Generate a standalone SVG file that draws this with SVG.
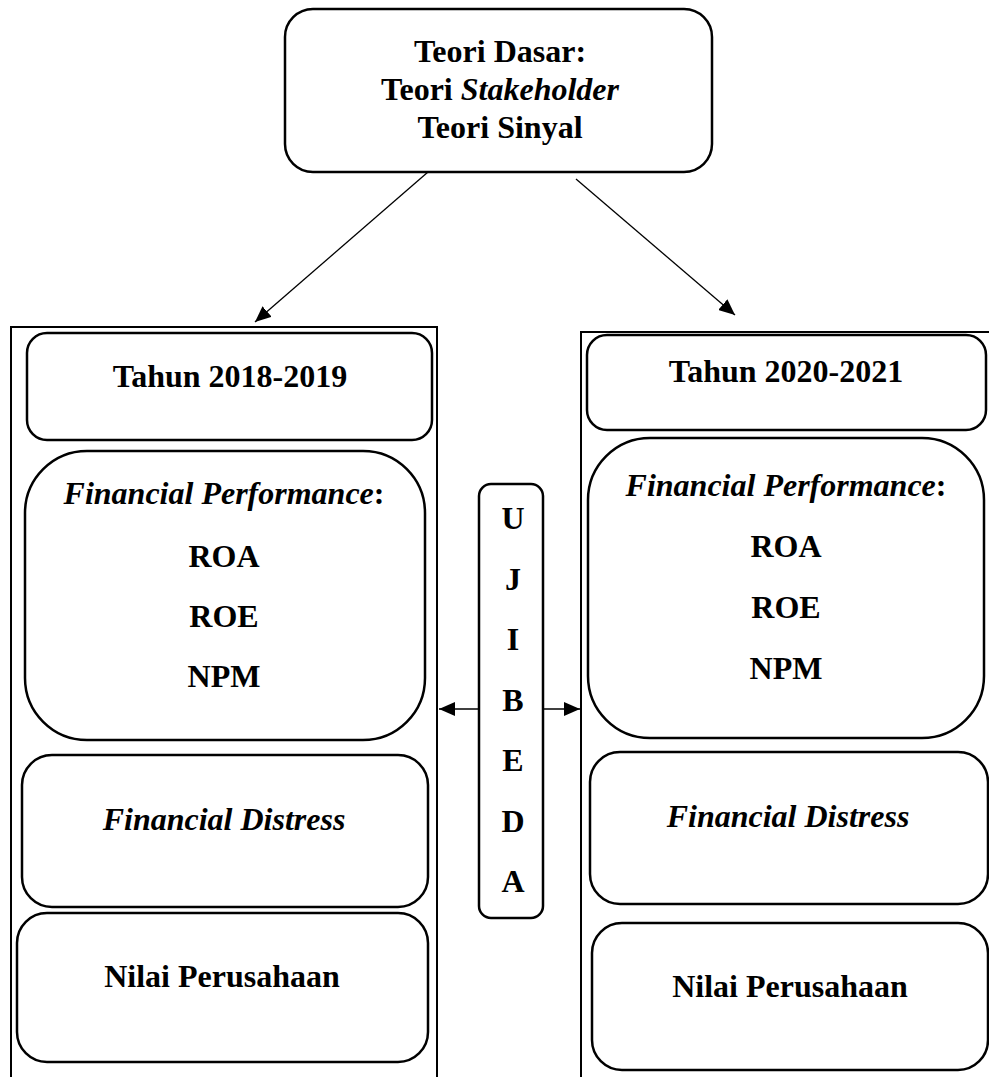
<svg xmlns="http://www.w3.org/2000/svg" width="989" height="1077" viewBox="0 0 989 1077">
<style>
.box{fill:#fff;stroke:#000;stroke-width:2.5}
.outer{fill:none;stroke:#000;stroke-width:2}
.conn{stroke:#000;stroke-width:1.3;fill:none}
text{font-family:"Liberation Serif","Times New Roman",serif;font-weight:bold;font-size:32px;fill:#000;text-anchor:middle}
.it{font-style:italic}
</style>
<defs>
<marker id="ah" viewBox="0 0 16 14" refX="16" refY="7" markerWidth="16" markerHeight="14" markerUnits="userSpaceOnUse" orient="auto">
<path d="M0,0 L16,7 L0,14 Z" fill="#000"/>
</marker>
</defs>
<rect width="989" height="1077" fill="#fff"/>
<g id="outer-left"><rect class="outer" x="11" y="327" width="426" height="770"/></g>
<g id="outer-right"><rect class="outer" x="581" y="332" width="420" height="770"/></g>
<g id="top">
<rect class="box" x="285" y="9" width="427" height="163" rx="28"/>
<text x="500" y="62">Teori Dasar:</text>
<text x="500" y="100">Teori <tspan class="it">Stakeholder</tspan></text>
<text x="500" y="138">Teori Sinyal</text>
</g>
<g id="left-year">
<rect class="box" x="27" y="333" width="405" height="107" rx="20"/>
<text x="230" y="387">Tahun 2018-2019</text>
</g>
<g id="left-fp">
<rect class="box" x="25" y="451" width="400" height="289" rx="62"/>
<text x="224" y="504"><tspan class="it">Financial Performance</tspan>:</text>
<text x="224" y="567">ROA</text>
<text x="224" y="627">ROE</text>
<text x="224" y="687">NPM</text>
</g>
<g id="left-fd">
<rect class="box" x="22" y="755" width="406" height="152" rx="30"/>
<text class="it" x="224" y="830">Financial Distress</text>
</g>
<g id="left-np">
<rect class="box" x="17" y="913" width="411" height="149" rx="30"/>
<text x="222" y="987">Nilai Perusahaan</text>
</g>
<g id="right-year">
<rect class="box" x="587" y="335" width="399" height="95" rx="20"/>
<text x="786" y="382">Tahun 2020-2021</text>
</g>
<g id="right-fp">
<rect class="box" x="588" y="438" width="396" height="300" rx="62"/>
<text x="786" y="496"><tspan class="it">Financial Performance</tspan>:</text>
<text x="786" y="557">ROA</text>
<text x="786" y="618">ROE</text>
<text x="786" y="679">NPM</text>
</g>
<g id="right-fd">
<rect class="box" x="590" y="752" width="398" height="152" rx="30"/>
<text class="it" x="788" y="827">Financial Distress</text>
</g>
<g id="right-np">
<rect class="box" x="592" y="923" width="396" height="147" rx="30"/>
<text x="790" y="997">Nilai Perusahaan</text>
</g>
<g id="uji-beda">
<rect class="box" x="479" y="484" width="64" height="434" rx="12"/>
<text x="513" y="529">U</text>
<text x="513" y="589.5">J</text>
<text x="513" y="650">I</text>
<text x="513" y="710.5">B</text>
<text x="513" y="771">E</text>
<text x="513" y="831.5">D</text>
<text x="513" y="892">A</text>
</g>
<g id="connectors">
<line class="conn" x1="428" y1="172" x2="255" y2="322" marker-end="url(#ah)"/>
<line class="conn" x1="576" y1="179" x2="735" y2="315" marker-end="url(#ah)"/>
<line class="conn" x1="479" y1="709" x2="439" y2="709" marker-end="url(#ah)"/>
<line class="conn" x1="543" y1="709" x2="580" y2="709" marker-end="url(#ah)"/>
</g>
</svg>
